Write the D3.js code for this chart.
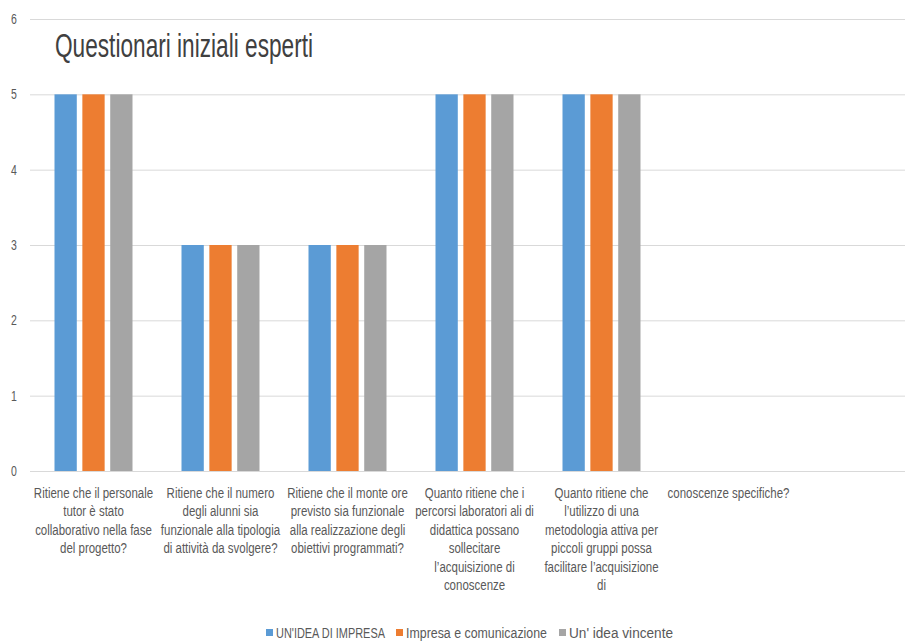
<!DOCTYPE html>
<html>
<head>
<meta charset="utf-8">
<script src="https://cdn.jsdelivr.net/npm/d3@7"></script>
<style>
  body { margin: 0; background: #fff; }
  svg text { font-family: "Liberation Sans", Arial, sans-serif; }
</style>
</head>
<body>
<div id="chart"></div>
<script>
// categories (line breaks as in the original chart)
let categories = [
    "Ritiene che il personale\ntutor è stato\ncollaborativo nella fase\ndel progetto?",
    "Ritiene che il numero\ndegli alunni sia\nfunzionale alla tipologia\ndi attività da svolgere?",
    "Ritiene che il monte ore\nprevisto sia funzionale\nalla realizzazione degli\nobiettivi programmati?",
    "Quanto ritiene che i\npercorsi laboratori ali di\ndidattica possano\nsollecitare\nl’acquisizione di\nconoscenze",
    "Quanto ritiene che\nl’utilizzo di una\nmetodologia  attiva per\npiccoli gruppi possa\nfacilitare l’acquisizione\ndi",
    "conoscenze specifiche?"
];
let seriesNames = ["UN'IDEA DI IMPRESA", "Impresa e comunicazione", "Un' idea vincente"];
let ideaImpresa   = [5, 3, 3, 5, 5, null];
let impresaComun  = [5, 3, 3, 5, 5, null];
let ideaVincente  = [5, 3, 3, 5, 5, null];
let yTicks = [0, 1, 2, 3, 4, 5, 6];

let colors = ['#5b9bd5', '#ed7d31', '#a5a5a5'];
let series = [ideaImpresa, impresaComun, ideaVincente];

let width = 905, height = 642;
let margin = { top: 19, right: 0, bottom: 171, left: 30 };

let svg = d3.select('#chart').append('svg')
    .attr('width', width)
    .attr('height', height);

let x = d3.scaleBand()
    .domain(d3.range(categories.length))
    .range([margin.left, margin.left + 127 * categories.length]);

let x1 = d3.scaleBand()
    .domain(d3.range(series.length))
    .range([24.5, 127 - 24.5])
    .paddingInner(0.2);

let y = d3.scaleLinear()
    .domain([0, 6])
    .range([height - margin.bottom, margin.top]);

// gridlines
svg.append('g')
    .selectAll('line')
    .data(yTicks)
    .join('line')
        .attr('x1', margin.left)
        .attr('x2', width)
        .attr('y1', d => y(d) + 0.5)
        .attr('y2', d => y(d) + 0.5)
        .attr('stroke', '#d9d9d9')
        .attr('stroke-width', 1);

// y tick labels
svg.append('g')
    .selectAll('text')
    .data(yTicks)
    .join('text')
        .attr('text-anchor', 'middle')
        .attr('font-size', 14)
        .attr('fill', '#595959')
        .attr('transform', d => `translate(14,${y(d) + 5}) scale(0.75,1)`)
        .text(d => d);

// bars
let group = svg.append('g')
    .selectAll('g')
    .data(categories.map((c, i) => i))
    .join('g')
        .attr('transform', i => `translate(${x(i)},0)`);

group.selectAll('rect')
    .data(i => series.map((s, k) => ({ k: k, v: s[i] })).filter(d => d.v !== null))
    .join('rect')
        .attr('x', d => x1(d.k))
        .attr('width', x1.bandwidth())
        .attr('y', d => y(d.v))
        .attr('height', d => y(0) - y(d.v))
        .attr('fill', d => colors[d.k]);

// x labels, squeezed horizontally like the narrow original font
let labelScale = 0.82;
svg.append('g')
    .selectAll('g')
    .data(categories)
    .join('g')
        .attr('transform', (d, i) => `translate(${x(i) + x.bandwidth() / 2},498) scale(${labelScale},1)`)
    .append('text')
        .attr('text-anchor', 'middle')
        .attr('font-size', 14)
        .attr('fill', '#595959')
        .each(function(d) {
            let t = d3.select(this);
            d.split('\n').forEach((line, j) => {
                t.append('tspan')
                    .attr('x', 0)
                    .attr('dy', j === 0 ? 0 : 18.5)
                    .text(line);
            });
        });

// title
svg.append('text')
    .attr('x', 55)
    .attr('y', 57)
    .attr('font-size', 34)
    .attr('fill', '#404040')
    .attr('textLength', 258)
    .attr('lengthAdjust', 'spacingAndGlyphs')
    .text('Questionari iniziali esperti');

// legend
let legendX = [266, 396, 559];
let legendW = [109, 141, 104];
let legend = svg.append('g')
    .selectAll('g')
    .data(seriesNames)
    .join('g')
        .attr('transform', (d, i) => `translate(${legendX[i]},629)`);

legend.append('rect')
    .attr('width', 7)
    .attr('height', 7)
    .attr('fill', (d, i) => colors[i]);

legend.append('text')
    .attr('x', 10)
    .attr('y', 8.5)
    .attr('font-size', 14)
    .attr('fill', '#595959')
    .attr('textLength', (d, i) => legendW[i])
    .attr('lengthAdjust', 'spacingAndGlyphs')
    .text(d => d);
</script>
</body>
</html>
